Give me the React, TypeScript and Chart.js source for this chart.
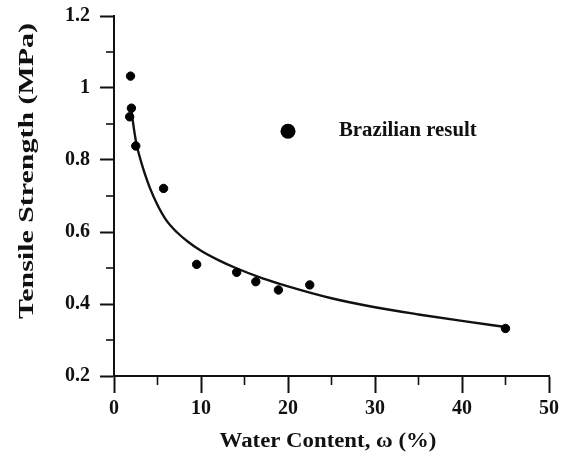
import React, { useEffect, useRef } from "react";
import { Chart, registerables } from "chart.js";

Chart.register(...registerables);

// Measured data (Brazilian test)
const waterContent = [1.9, 2.0, 1.8, 2.5, 5.7, 9.5, 14.1, 16.3, 18.9, 22.5, 45];
const tensileStrength = [1.033, 0.944, 0.92, 0.839, 0.721, 0.51, 0.488, 0.462, 0.439, 0.453, 0.332];

// Fitted curve
const curveX = [1.94, 2.3, 2.6, 3.0, 3.5, 4.1, 5.0, 6.0, 7.2, 8.5, 10, 12, 14, 17, 20, 25, 30, 35, 40, 45];
const curveY = [0.948, 0.885, 0.842, 0.805, 0.765, 0.724, 0.675, 0.633, 0.6, 0.573, 0.548, 0.522, 0.5, 0.472, 0.449, 0.416, 0.391, 0.371, 0.353, 0.336];

// Axis ticks
const xMajorTicks = [0, 10, 20, 30, 40, 50];
const xMinorTicks = [5, 15, 25, 35, 45];
const yMajorTicks = [0.2, 0.4, 0.6, 0.8, 1.0, 1.2];
const yMinorTicks = [0.3, 0.5, 0.7, 0.9, 1.1];

const legendLabel = "Brazilian result";
const xTitle = "Water Content, \u03c9 (%)";
const yTitle = "Tensile Strength (MPa)";

const FONT = "'Liberation Serif', 'Times New Roman', serif";

export default function App() {
  const ref = useRef<HTMLCanvasElement>(null);

  useEffect(() => {
    document.body.style.margin = "0";
    const canvas = ref.current;
    if (!canvas) return;

    const decorPlugin = {
      id: "decor",
      afterDraw(chart: any) {
        const ctx = chart.ctx;
        const xs = chart.scales.x;
        const ys = chart.scales.y;
        const area = chart.chartArea;
        ctx.save();
        ctx.strokeStyle = "#111";
        ctx.lineWidth = 1.6;
        // minor ticks
        xMinorTicks.forEach((v) => {
          const px = xs.getPixelForValue(v);
          ctx.beginPath();
          ctx.moveTo(px, area.bottom);
          ctx.lineTo(px, area.bottom + 9);
          ctx.stroke();
        });
        yMinorTicks.forEach((v) => {
          const py = ys.getPixelForValue(v);
          ctx.beginPath();
          ctx.moveTo(area.left, py);
          ctx.lineTo(area.left - 8, py);
          ctx.stroke();
        });
        // legend inside plot
        const lx = xs.getPixelForValue(20);
        const ly = ys.getPixelForValue(0.88);
        ctx.fillStyle = "#000";
        ctx.beginPath();
        ctx.arc(lx, ly, 7.5, 0, Math.PI * 2);
        ctx.fill();
        ctx.fillStyle = "#111";
        ctx.textBaseline = "middle";
        ctx.save();
        ctx.translate(lx + 51, ly);
        ctx.scale(1.04, 1);
        ctx.font = `bold 20px ${FONT}`;
        ctx.textAlign = "left";
        ctx.fillText(legendLabel, 0, 0);
        ctx.restore();
        // y axis title
        ctx.save();
        ctx.translate(27, 171);
        ctx.rotate(-Math.PI / 2);
        ctx.scale(1.36, 1);
        ctx.textAlign = "center";
        ctx.font = `bold 22px ${FONT}`;
        ctx.fillText(yTitle, 0, 0);
        ctx.restore();
        // x axis title
        ctx.save();
        ctx.translate(328, 442);
        ctx.scale(1.14, 1);
        ctx.textAlign = "center";
        ctx.font = `bold 20px ${FONT}`;
        ctx.fillText(xTitle, 0, 0);
        ctx.restore();
        ctx.restore();
      },
    };

    const chart = new Chart(canvas, {
      type: "scatter",
      data: {
        datasets: [
          {
            label: legendLabel,
            data: waterContent.map((x, i) => ({ x, y: tensileStrength[i] })),
            backgroundColor: "#000",
            borderColor: "#000",
            pointRadius: 4.2,
            pointHoverRadius: 4.2,
            showLine: false,
          },
          {
            label: "fit",
            data: curveX.map((x, i) => ({ x, y: curveY[i] })),
            borderColor: "#111",
            borderWidth: 2.4,
            pointRadius: 0,
            showLine: true,
            cubicInterpolationMode: "monotone",
            fill: false,
          },
        ],
      },
      plugins: [decorPlugin],
      options: {
        responsive: false,
        animation: false,
        layout: { padding: { left: 0, right: 8, top: 16, bottom: 0 } },
        plugins: {
          legend: { display: false },
          tooltip: { enabled: false },
        },
        scales: {
          x: {
            type: "linear",
            min: 0,
            max: 50,
            afterBuildTicks: (scale: any) => {
              scale.ticks = xMajorTicks.map((v) => ({ value: v }));
            },
            afterFit: (scale: any) => {
              scale.height = 90;
            },
            border: { display: true, color: "#111", width: 2 },
            grid: {
              drawOnChartArea: false,
              drawTicks: true,
              tickLength: 17,
              tickWidth: 2,
              tickColor: "#111",
            },
            ticks: {
              color: "#111",
              padding: 4,
              font: { family: FONT, size: 20, weight: "bold" },
              maxRotation: 0,
            },
          },
          y: {
            type: "linear",
            min: 0.2,
            max: 1.2,
            afterBuildTicks: (scale: any) => {
              scale.ticks = yMajorTicks.map((v) => ({ value: v }));
            },
            afterFit: (scale: any) => {
              scale.width = 114;
              scale.paddingTop = 4;
              scale.paddingBottom = 4;
            },
            border: { display: true, color: "#111", width: 2 },
            grid: {
              drawOnChartArea: false,
              drawTicks: true,
              tickLength: 14,
              tickWidth: 2,
              tickColor: "#111",
            },
            ticks: {
              color: "#111",
              padding: 10,
              font: { family: FONT, size: 20, weight: "bold" },
              callback: (v: any) => String(Math.round(Number(v) * 10) / 10),
            },
          },
        },
      },
    });

    return () => chart.destroy();
  }, []);

  return (
    <div style={{ width: 563, height: 466, background: "#fff" }}>
      <canvas ref={ref} width={563} height={466} />
    </div>
  );
}
